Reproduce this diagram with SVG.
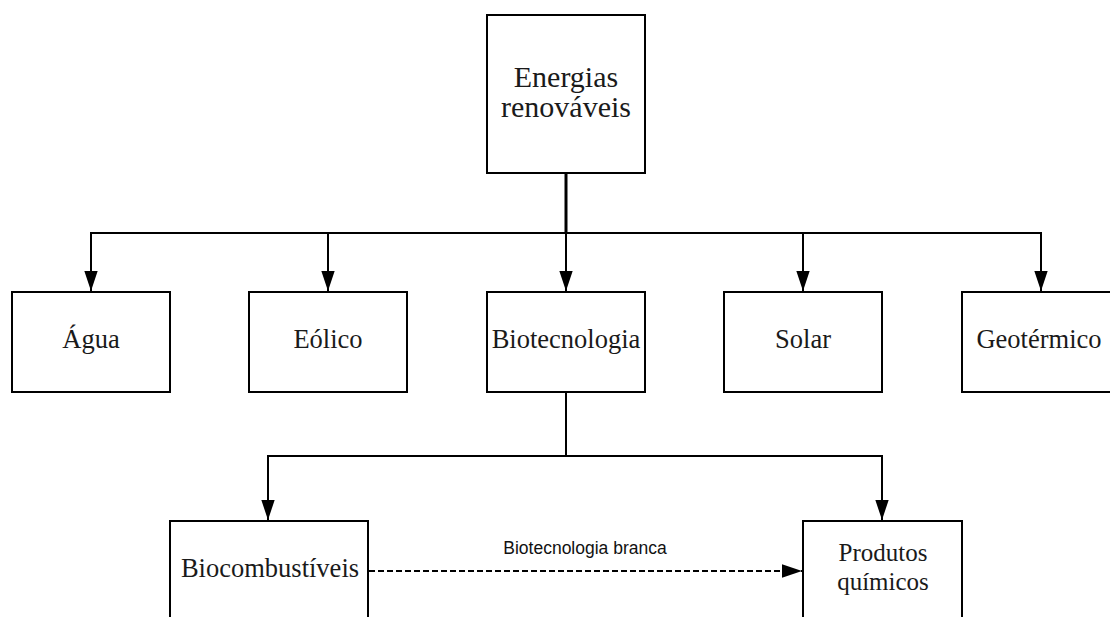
<svg xmlns="http://www.w3.org/2000/svg" width="1110" height="617" viewBox="0 0 1110 617">
<style>
.box{fill:#fff;stroke:#000;stroke-width:2}
.lbl{font-family:"Liberation Serif","Times New Roman",serif;font-size:26.5px;fill:#1a1a1a;text-anchor:middle}
.top{font-size:30px}
.sm{font-size:25px}
.edge{fill:none;stroke:#000;stroke-width:2}
.elbl{font-family:"Liberation Sans",Arial,sans-serif;font-size:17.5px;fill:#111;text-anchor:middle}
</style>
<defs>
<marker id="ah" markerUnits="userSpaceOnUse" markerWidth="20" markerHeight="14" viewBox="0 0 18 12" refX="18" refY="6" orient="auto">
<path d="M0,0 L18,6 L0,12 Z" fill="#000"/>
</marker>
</defs>
<g id="connectors">
<line x1="566" y1="173" x2="566" y2="233" stroke="#000" stroke-width="3"/>
<line class="edge" x1="90" y1="233" x2="1042" y2="233"/>
<line class="edge" x1="91" y1="233" x2="91" y2="291" marker-end="url(#ah)"/>
<line class="edge" x1="328" y1="233" x2="328" y2="291" marker-end="url(#ah)"/>
<line class="edge" x1="566" y1="233" x2="566" y2="291" marker-end="url(#ah)"/>
<line class="edge" x1="803" y1="233" x2="803" y2="291" marker-end="url(#ah)"/>
<line class="edge" x1="1041" y1="233" x2="1041" y2="291" marker-end="url(#ah)"/>
<polyline class="edge" points="566,392 566,456"/>
<line class="edge" x1="267" y1="456" x2="883" y2="456"/>
<line class="edge" x1="268" y1="456" x2="268" y2="520" marker-end="url(#ah)"/>
<line class="edge" x1="882" y1="456" x2="882" y2="520" marker-end="url(#ah)"/>
<line x1="369" y1="571" x2="802" y2="571" stroke="#000" stroke-width="1.8" stroke-dasharray="6,3" marker-end="url(#ah)"/>
<text class="elbl" x="585" y="554">Biotecnologia branca</text>
</g>
<g id="n-energias">
<rect class="box" x="487" y="15" width="158" height="158"/>
<text class="lbl top" x="566" y="87">Energias</text>
<text class="lbl top" x="566" y="117">renováveis</text>
</g>
<g id="n-agua">
<rect class="box" x="12" y="292" width="158" height="100"/>
<text class="lbl" x="91" y="348">Água</text>
</g>
<g id="n-eolico">
<rect class="box" x="249" y="292" width="158" height="100"/>
<text class="lbl" x="328" y="348">Eólico</text>
</g>
<g id="n-biotec">
<rect class="box" x="487" y="292" width="158" height="100"/>
<text class="lbl" x="566" y="348">Biotecnologia</text>
</g>
<g id="n-solar">
<rect class="box" x="724" y="292" width="158" height="100"/>
<text class="lbl" x="803" y="348">Solar</text>
</g>
<g id="n-geotermico">
<rect class="box" x="962" y="292" width="158" height="100"/>
<text class="lbl" x="1039" y="348">Geotérmico</text>
</g>
<g id="n-biocomb">
<rect class="box" x="170" y="521" width="198" height="110"/>
<text class="lbl" x="270" y="577">Biocombustíveis</text>
</g>
<g id="n-produtos">
<rect class="box" x="803" y="521" width="159" height="110"/>
<text class="lbl sm" x="883" y="561">Produtos</text>
<text class="lbl sm" x="883" y="590">químicos</text>
</g>
</svg>
